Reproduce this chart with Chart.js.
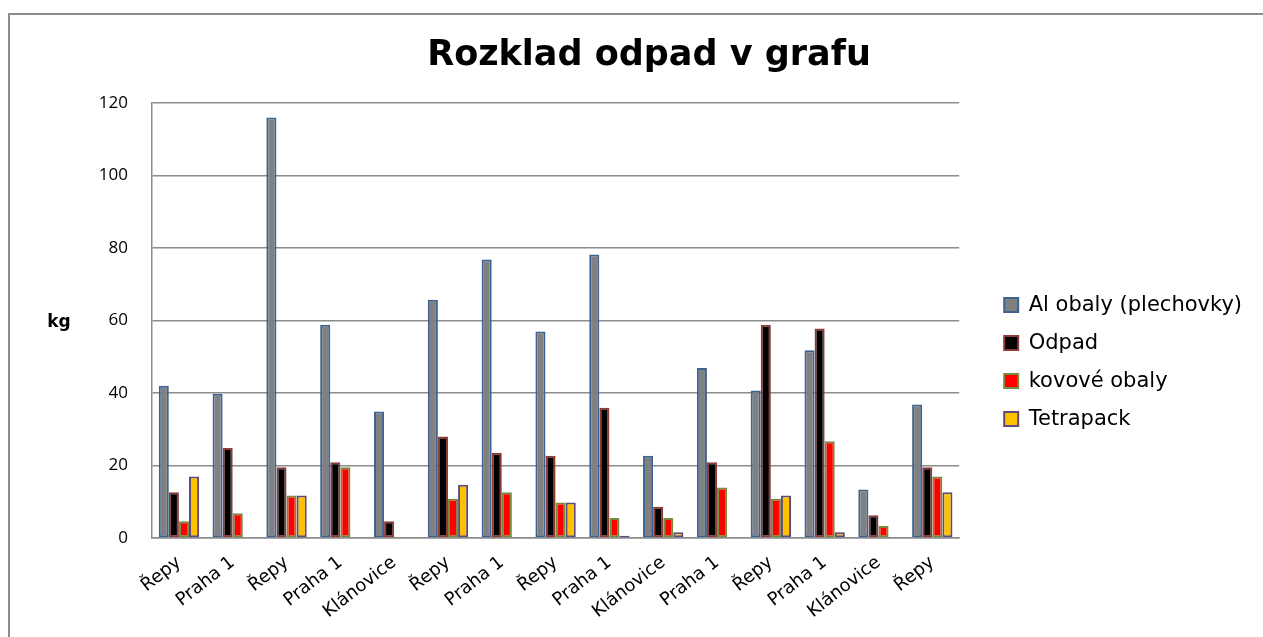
<!DOCTYPE html>
<html lang="cs">
<head>
  <meta charset="UTF-8">
  <title>Rozklad odpad v grafu</title>
  <script src="https://cdn.jsdelivr.net/npm/chart.js"></script>
  <style>
    body { margin: 0; background: #fff; }
    #ramecek { position: absolute; left: 8px; top: 13px; width: 1260px; height: 630px;
               border-top: 2px solid #8c8c8c; border-left: 2px solid #8c8c8c; }
    #obal { position: absolute; left: 0; top: 0; width: 1263px; height: 637px; }
  </style>
</head>
<body>
  <div id="ramecek"></div>
  <div id="obal"><canvas id="graf"></canvas></div>

  <script>
    // Data (kg)
    const kategorie = ['Řepy', 'Praha 1', 'Řepy', 'Praha 1', 'Klánovice', 'Řepy', 'Praha 1', 'Řepy',
                       'Praha 1', 'Klánovice', 'Praha 1', 'Řepy', 'Praha 1', 'Klánovice', 'Řepy'];
    const alObaly   = [42, 39.8, 116, 58.8, 34.9, 65.7, 76.8, 57, 78.2, 22.7, 46.9, 40.7, 51.8, 13.4, 36.8];
    const odpad     = [12.6, 24.8, 19.5, 20.9, 4.6, 28, 23.5, 22.7, 35.9, 8.6, 20.9, 58.8, 57.8, 6.3, 19.5];
    const kovove    = [4.6, 6.8, 11.7, 19.5, 0, 10.8, 12.6, 9.8, 5.5, 5.5, 13.9, 10.8, 26.7, 3.3, 17];
    const tetrapack = [17, 0, 11.7, 0, 0, 14.7, 0.3, 9.8, 0.6, 1.6, 0, 11.7, 1.6, 0.3, 12.6];

    const pismo = "'DejaVu Sans', sans-serif";
    const pismoOsy = "'Open Sans', sans-serif";

    // popisek osy Y vodorovně vlevo (jako v Excelu)
    const popisekKg = {
      id: 'popisekKg',
      afterDraw(chart) {
        const ctx = chart.ctx;
        const y = chart.scales.y.getPixelForValue(60);
        ctx.save();
        ctx.font = 'bold 17px ' + pismo;
        ctx.fillStyle = '#000';
        ctx.textAlign = 'center';
        ctx.textBaseline = 'middle';
        ctx.fillText('kg', 59, y + 2);
        ctx.restore();
      }
    };

    const sada = (label, data, fill, border) => ({
      label, data,
      backgroundColor: fill,
      borderColor: border,
      borderWidth: 2,
      borderSkipped: false,
      categoryPercentage: 0.75,
      barPercentage: 1.0
    });

    new Chart(document.getElementById('graf'), {
      type: 'bar',
      data: {
        labels: kategorie,
        datasets: [
          sada('Al obaly (plechovky)', alObaly, '#808080', '#3d6391'),
          sada('Odpad', odpad, '#000000', '#8e3a38'),
          sada('kovové obaly', kovove, '#ff0000', '#738c3e'),
          sada('Tetrapack', tetrapack, '#ffc000', '#604a7b')
        ]
      },
      options: {
        responsive: true,
        maintainAspectRatio: false,
        animation: false,
        layout: { padding: { left: 46, right: 11, top: 32, bottom: 0 } },
        plugins: {
          title: {
            display: true,
            text: 'Rozklad odpad v grafu',
            color: '#000',
            font: { family: pismo, size: 35, weight: 'bold' },
            padding: { top: 2.5, bottom: 26.5 }
          },
          legend: {
            position: 'right',
            fullSize: false,
            maxWidth: 320,
            title: { display: true, text: ' ', font: { size: 1 }, padding: { top: 41, bottom: 41 } },
            labels: {
              color: '#000',
              font: { family: pismo, size: 21 },
              boxWidth: 14,
              boxHeight: 14,
              padding: 17
            }
          },
          tooltip: { enabled: false }
        },
        scales: {
          x: {
            grid: { display: false },
            border: { display: true, color: '#8c8c8c', width: 1.5 },
            ticks: {
              color: '#000',
              font: { family: pismo, size: 18 },
              minRotation: 38,
              maxRotation: 38,
              padding: 6
            },
            afterFit(s) { s.height = 99; }
          },
          y: {
            min: 0,
            max: 120,
            grid: { color: '#8c8c8c', lineWidth: 1.5, drawTicks: false },
            border: { display: true, color: '#8c8c8c', width: 1.5 },
            ticks: {
              stepSize: 20,
              color: '#000',
              font: { family: pismoOsy, size: 17 },
              padding: 24
            },
            afterFit(s) { s.width = 106; }
          },
          mezera: {
            position: 'right',
            display: true,
            grid: { display: false },
            border: { display: false },
            ticks: { display: false },
            afterFit(s) { s.width = 28; }
          }
        }
      },
      plugins: [popisekKg]
    });
  </script>
</body>
</html>
